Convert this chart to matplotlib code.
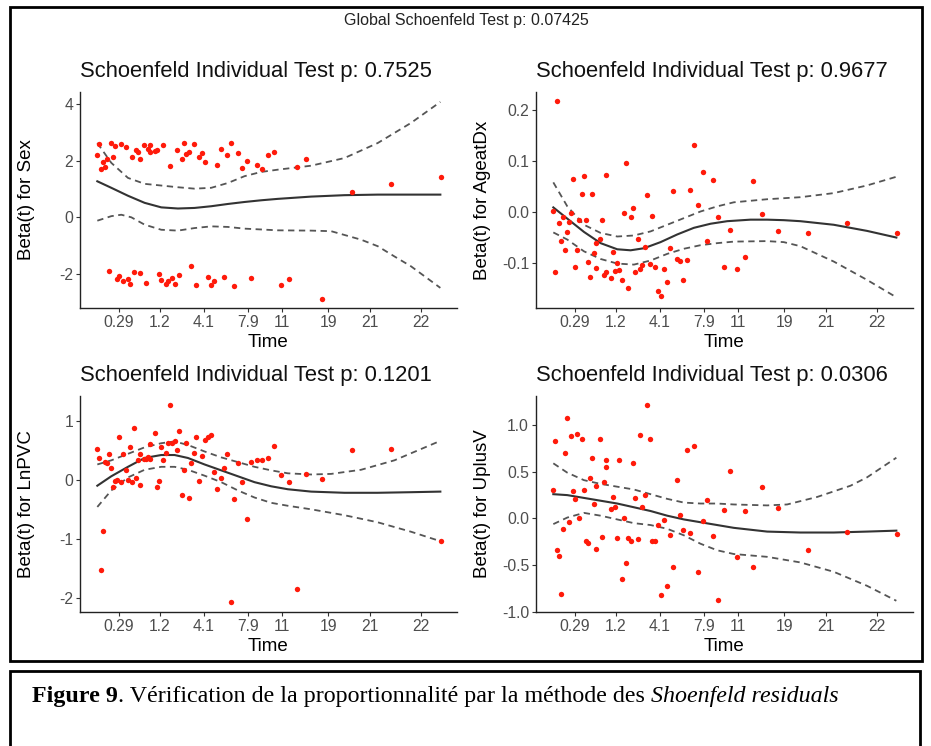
import matplotlib
matplotlib.use("Agg")
import matplotlib.pyplot as plt
from matplotlib.patches import Rectangle

# transformed event times shared by the four panels
event_time = [0, 0.6, 1.1, 1.8, 2.4, 3.0, 3.6, 4.2, 4.8, 5.4,
              6.0, 6.6, 7.2, 7.8, 8.5, 9.1, 9.7, 10.3, 11.0, 11.6,
              12.2, 12.8, 12.8, 14.1, 14.7, 15.3, 15.9, 15.9, 17.2, 17.9,
              18.5, 19.2, 19.8, 20.5, 21.2, 21.8, 22.5, 23.2, 23.8, 24.6,
              25.3, 26.0, 26.7, 27.4, 28.2, 29.0, 29.7, 30.6, 31.4, 32.2,
              33.2, 34.2, 35.0, 36.0, 37.0, 38.0, 39.0, 40.1, 41.1, 42.2,
              43.4, 44.8, 46.2, 47.9, 49.5, 51.2, 53.2, 55.2, 57.6, 60.0,
              62.6, 67.6, 76.6, 88.2, 103.2]
time_ticks = [6.5, 18.7, 32.0, 45.2, 55.4, 69.4, 81.9, 97.2]
time_labels = ["0.29", "1.2", "4.1", "7.9", "11", "19", "21", "22"]

sex_resid = [2.21, 2.59, 1.72, 1.95, 1.78, 2.06, -1.88, 2.62, 2.12, 2.53,
             -2.19, -2.06, 2.60, -2.24, 2.47, -2.19, -2.34, 2.12, -1.92, 2.36,
             2.29, 2.04, -1.95, 2.56, -2.33, 2.41, 2.54, 2.29, 2.33, 2.36,
             -2.00, -2.20, 2.56, -2.35, -2.24, 1.80, -2.15, -2.35, 2.36, -2.05,
             2.06, 2.61, 2.25, 2.32, -1.72, 2.58, -2.39, 2.13, 2.27, 1.95,
             -2.09, -2.40, -2.24, 1.85, 2.41, -2.12, 2.18, 2.61, -2.42, 2.26,
             1.75, 2.00, -2.15, 1.84, 1.71, 2.18, 2.32, -2.39, -2.16, 1.79,
             2.04, -2.87, 0.89, 1.18, 1.41]
age_resid = [0.001, -0.118, 0.218, -0.022, -0.056, -0.010, -0.075, -0.040, -0.020, -0.002,
             0.065, -0.108, -0.075, -0.015, 0.035, 0.070, -0.016, -0.097, -0.127, 0.035,
             -0.081, -0.061, -0.110, -0.052, -0.016, -0.123, 0.072, -0.118, -0.129, -0.078,
             -0.115, -0.099, -0.114, -0.134, -0.002, 0.096, -0.148, -0.010, 0.008, -0.117,
             -0.052, -0.112, -0.103, -0.069, 0.033, -0.101, -0.007, -0.108, -0.154, -0.164,
             -0.112, -0.137, -0.071, 0.041, -0.092, -0.095, -0.133, -0.094, 0.043, 0.131,
             0.014, 0.078, -0.056, 0.063, -0.009, -0.108, -0.035, -0.112, -0.088, 0.060,
             -0.004, -0.037, -0.042, -0.022, -0.042]
pvc_resid = [0.53, 0.37, -1.53, -0.87, 0.31, 0.28, 0.44, 0.20, -0.13, -0.02,
             0.00, 0.72, -0.04, 0.43, 0.17, -0.01, 0.55, -0.04, 0.88, 0.03,
             0.34, 0.44, -0.08, 0.35, 0.36, 0.39, 0.61, 0.35, 0.80, -0.13,
             -0.02, 0.55, 0.33, 0.46, 0.63, 1.27, 0.63, 0.66, 0.51, 0.82,
             -0.25, 0.16, 0.63, -0.30, 0.28, 0.46, 0.73, -0.02, 0.40, 0.68,
             0.72, 0.76, 0.13, -0.16, 0.03, 0.20, 0.44, -2.07, -0.32, 0.29,
             -0.03, -0.67, 0.31, 0.33, 0.34, 0.37, 0.57, 0.08, -0.04, -1.85,
             0.10, 0.02, 0.51, 0.53, -1.03]
uplusv_resid = [0.31, 0.83, -0.34, -0.40, -0.81, -0.11, 0.70, 1.08, -0.04, 0.88,
                0.29, 0.21, 0.90, 0.01, 0.85, 0.31, -0.24, -0.26, 0.43, 0.65,
                0.15, 0.35, -0.33, 0.85, -0.20, 0.39, 0.63, 0.55, 0.10, 0.23,
                0.12, -0.21, 0.63, -0.65, 0.00, -0.48, -0.21, -0.24, 0.59, 0.22,
                -0.22, 0.89, 0.12, 0.25, 1.21, 0.85, -0.24, -0.24, -0.07, -0.82,
                -0.02, -0.72, -0.18, -0.52, 0.41, 0.04, -0.12, 0.73, -0.15, 0.78,
                -0.57, -0.03, 0.20, -0.19, -0.87, 0.09, 0.51, -0.41, 0.08, -0.52,
                0.34, 0.11, -0.34, -0.14, -0.17]

# smoothed beta(t) and its confidence band
sex_fit_t = [0, 4.2, 9.2, 14.2, 19.2, 24.2, 29.2, 34.2, 39.2, 44.2, 49.2, 54.2, 64.2, 74.2, 84.2, 94.2, 103]
sex_fit = [1.27, 1.04, 0.76, 0.51, 0.35, 0.31, 0.33, 0.39, 0.47, 0.54, 0.60, 0.65, 0.73, 0.78, 0.80, 0.80, 0.80]
sex_up_t = [0, 4.2, 9.2, 14.2, 19.2, 24.2, 29.2, 34.2, 39.2, 44.2, 49.2, 54.2, 64.2, 74.2, 84.2, 94.2, 103]
sex_up = [2.62, 1.92, 1.39, 1.18, 1.12, 1.06, 1.01, 1.04, 1.21, 1.45, 1.60, 1.68, 1.82, 2.09, 2.62, 3.33, 4.07]
sex_lo_t = [0, 4.2, 7.2, 10.2, 14.2, 19.2, 24.2, 29.2, 34.2, 39.2, 44.2, 54.2, 64.2, 70.2, 79.2, 84.2, 89.2, 94.2, 103]
sex_lo = [-0.12, 0.04, 0.09, 0.0, -0.26, -0.44, -0.47, -0.38, -0.32, -0.34, -0.40, -0.46, -0.47, -0.49, -0.79, -1.02, -1.38, -1.73, -2.49]

age_fit_t = [0, 4.2, 9.2, 14.2, 19.2, 23.2, 27.2, 32.2, 37.2, 42.2, 47.2, 52.2, 59.2, 64.2, 69.2, 74.2, 84.2, 94.2, 103]
age_fit = [0.009, -0.013, -0.039, -0.061, -0.073, -0.075, -0.071, -0.059, -0.044, -0.031, -0.023, -0.018, -0.015, -0.015, -0.016, -0.018, -0.025, -0.037, -0.050]
age_up_t = [0, 4.2, 9.2, 14.2, 19.2, 24.2, 29.2, 34.2, 39.2, 44.2, 49.2, 54.2, 64.2, 74.2, 84.2, 94.2, 103]
age_up = [0.058, 0.011, -0.025, -0.041, -0.048, -0.046, -0.038, -0.025, -0.012, 0.001, 0.011, 0.019, 0.025, 0.029, 0.037, 0.052, 0.069]
age_lo_t = [0, 4.2, 9.2, 14.2, 19.2, 24.2, 29.2, 34.2, 39.2, 44.2, 49.2, 54.2, 64.2, 69.2, 74.2, 84.2, 94.2, 103]
age_lo = [-0.040, -0.054, -0.077, -0.092, -0.101, -0.103, -0.095, -0.082, -0.072, -0.065, -0.061, -0.058, -0.057, -0.059, -0.067, -0.097, -0.133, -0.167]

pvc_fit_t = [0, 4.2, 9.2, 14.2, 19.2, 23.2, 27.2, 32.2, 37.2, 42.2, 47.2, 52.2, 57.2, 64.2, 74.2, 84.2, 94.2, 103]
pvc_fit = [-0.10, 0.06, 0.22, 0.37, 0.42, 0.42, 0.37, 0.26, 0.16, 0.06, -0.04, -0.11, -0.16, -0.20, -0.22, -0.22, -0.21, -0.20]
pvc_up_t = [0, 4.2, 9.2, 14.2, 19.2, 23.2, 27.2, 32.2, 37.2, 42.2, 47.2, 52.2, 57.2, 64.2, 70.2, 79.2, 89.2, 103]
pvc_up = [0.26, 0.33, 0.44, 0.55, 0.62, 0.65, 0.59, 0.48, 0.38, 0.30, 0.22, 0.16, 0.11, 0.09, 0.10, 0.17, 0.33, 0.66]
pvc_lo_t = [0, 4.2, 9.2, 14.2, 19.2, 23.2, 27.2, 32.2, 37.2, 42.2, 47.2, 52.2, 57.2, 64.2, 74.2, 84.2, 94.2, 103]
pvc_lo = [-0.46, -0.18, 0.04, 0.17, 0.22, 0.22, 0.17, 0.07, -0.04, -0.18, -0.30, -0.39, -0.44, -0.50, -0.60, -0.72, -0.88, -1.04]

uv_fit_t = [0, 4.2, 9.2, 14.2, 19.2, 24.2, 29.2, 34.2, 39.2, 44.2, 49.2, 54.2, 59.2, 64.2, 74.2, 84.2, 94.2, 103]
uv_fit = [0.26, 0.25, 0.22, 0.19, 0.16, 0.12, 0.08, 0.03, -0.01, -0.04, -0.07, -0.10, -0.12, -0.14, -0.15, -0.15, -0.14, -0.13]
uv_up_t = [0, 4.2, 9.2, 14.2, 19.2, 24.2, 29.2, 34.2, 39.2, 44.2, 49.2, 54.2, 64.2, 70.2, 79.2, 89.2, 94.2, 103]
uv_up = [0.59, 0.49, 0.41, 0.37, 0.34, 0.31, 0.26, 0.21, 0.17, 0.16, 0.16, 0.15, 0.14, 0.15, 0.23, 0.35, 0.44, 0.65]
uv_lo_t = [0, 4.2, 9.2, 14.2, 19.2, 24.2, 29.2, 34.2, 39.2, 44.2, 49.2, 54.2, 64.2, 74.2, 84.2, 94.2, 103]
uv_lo = [-0.06, 0.01, 0.06, 0.03, -0.01, -0.05, -0.07, -0.11, -0.18, -0.27, -0.34, -0.38, -0.41, -0.47, -0.57, -0.72, -0.88]

plt.rcParams['font.family'] = ['Liberation Sans', 'DejaVu Sans']

fig = plt.figure(figsize=(9.31, 7.46), dpi=100)
W, H = 931.0, 746.0

def panel(left_px, top_px, pvalue, ylabel, resid, fits, ylim, yticks, ylabels):
    ax = fig.add_axes([left_px / W, 1 - (top_px + 216) / H, 377 / W, 216 / H])
    ax.scatter(event_time, resid, s=15, color="#FF1A0A", linewidths=0, zorder=3)
    (ft, fy), (ut, uy), (lt, ly) = fits
    ax.plot(ft, fy, color="#333333", lw=1.5, zorder=2)
    ax.plot(ut, uy, color="#555555", lw=1.3, ls=(0, (3.5, 2.5)), zorder=2)
    ax.plot(lt, ly, color="#555555", lw=1.3, ls=(0, (3.5, 2.5)), zorder=2)
    ax.set_xlim(-5.2, 108)
    ax.set_ylim(*ylim)
    ax.set_xticks(time_ticks)
    ax.set_xticklabels(time_labels)
    ax.set_yticks(yticks)
    ax.set_yticklabels(ylabels)
    for s in ["top", "right"]:
        ax.spines[s].set_visible(False)
    for s in ["left", "bottom"]:
        ax.spines[s].set_linewidth(1.0)
        ax.spines[s].set_color("#222222")
    ax.tick_params(length=3, width=0.8, color="#333333", labelcolor="#4D4D4D",
                   labelsize=11.3, pad=2)
    ax.set_xlabel("Time", fontsize=13.5, color="black", va="center")
    ax.xaxis.set_label_coords(0.5, -0.162)
    ax.set_ylabel(ylabel, fontsize=13.5, color="black", va="center")
    ax.yaxis.set_label_coords(-0.143, 0.5)
    ax.text(0, 1.095, "Schoenfeld Individual Test p: " + pvalue, transform=ax.transAxes,
            ha="left", va="center", fontsize=15.8, color="#111111")
    return ax

panel(80, 92, "0.7525", "Beta(t) for Sex", sex_resid,
      [(sex_fit_t, sex_fit), (sex_up_t, sex_up), (sex_lo_t, sex_lo)],
      (-3.2, 4.42), [-2, 0, 2, 4], ["-2", "0", "2", "4"])
panel(536, 92, "0.9677", "Beta(t) for AgeatDx", age_resid,
      [(age_fit_t, age_fit), (age_up_t, age_up), (age_lo_t, age_lo)],
      (-0.188, 0.235), [-0.1, 0.0, 0.1, 0.2], ["-0.1", "0.0", "0.1", "0.2"])
panel(80, 396, "0.1201", "Beta(t) for LnPVC", pvc_resid,
      [(pvc_fit_t, pvc_fit), (pvc_up_t, pvc_up), (pvc_lo_t, pvc_lo)],
      (-2.24, 1.42), [-2, -1, 0, 1], ["-2", "-1", "0", "1"])
panel(536, 396, "0.0306", "Beta(t) for UplusV", uplusv_resid,
      [(uv_fit_t, uv_fit), (uv_up_t, uv_up), (uv_lo_t, uv_lo)],
      (-1.0, 1.31), [-1.0, -0.5, 0.0, 0.5, 1.0], ["-1.0", "-0.5", "0.0", "0.5", "1.0"])

fig.text(466 / W, 1 - 20 / H, "Global Schoenfeld Test p: 0.07425", ha="center", va="center",
         fontsize=11.5, color="#222222")

# frames around the plot and the caption
fig.patches.append(Rectangle((10 / W, 1 - 661 / H), 912 / W, 654 / H, transform=fig.transFigure,
                             fill=False, ec="black", lw=2.0))
fig.patches.append(Rectangle((10 / W, -0.05), 910 / W, 1 - 671 / H + 0.05, transform=fig.transFigure,
                             fill=False, ec="black", lw=2.0))

# caption in three pieces: bold, roman, italic
renderer = fig.canvas.get_renderer()
x = 32
base_y = 1 - 702 / H
cap_size = 17.3
pieces = [("Figure 9", "bold", "normal"),
          (". Vérification de la proportionnalité par la méthode des ", "normal", "normal"),
          ("Shoenfeld residuals", "normal", "italic")]
for txt, weight, style in pieces:
    t = fig.text(x / W, base_y, txt, ha="left", va="baseline", fontsize=cap_size,
                 family=["Liberation Serif", "DejaVu Serif"], weight=weight, style=style, color="black")
    x += t.get_window_extent(renderer).width

fig.savefig("out.png", dpi=100, facecolor="white")
